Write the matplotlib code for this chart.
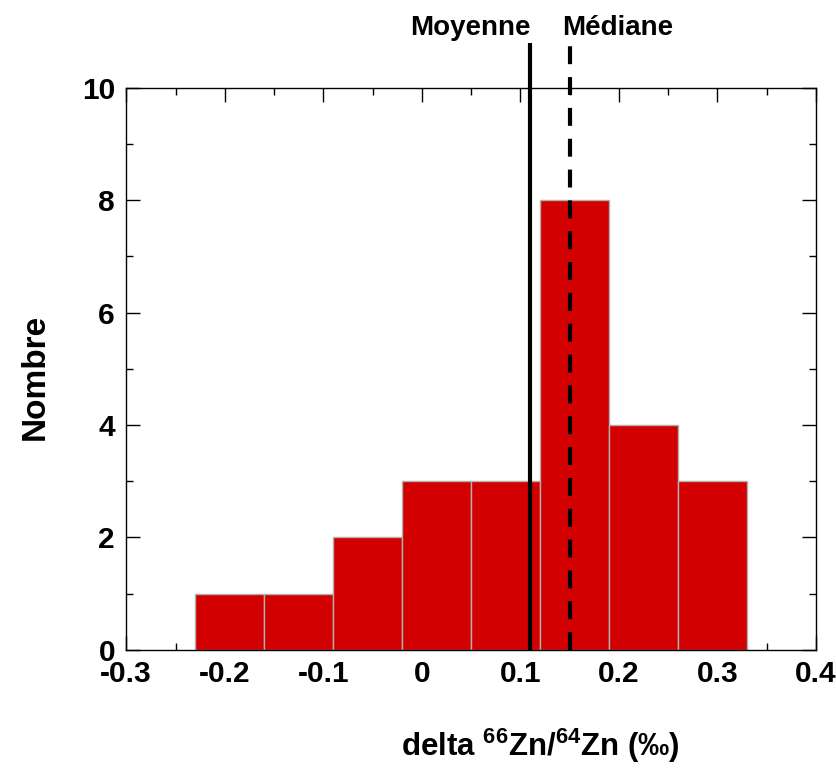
import matplotlib
matplotlib.use("Agg")
import matplotlib.pyplot as plt
import numpy as np
from matplotlib.ticker import MultipleLocator

plt.rcParams["font.family"] = ["Liberation Sans", "DejaVu Sans"]
plt.rcParams["mathtext.fontset"] = "custom"
plt.rcParams["mathtext.rm"] = "Liberation Sans:bold"
plt.rcParams["mathtext.bf"] = "Liberation Sans:bold"

# histogram of delta 66Zn/64Zn
bin_edges = [-0.23, -0.16, -0.09, -0.02, 0.05, 0.12, 0.19, 0.26, 0.33]
counts = [1, 1, 2, 3, 3, 8, 4, 3]
mean_val = 0.11
median_val = 0.15

C_BAR = "#d20000"

fig = plt.figure(figsize=(8.36, 7.69), dpi=100)
ax = fig.add_axes([0.151, 0.155, 0.825, 0.731])

widths = np.diff(bin_edges)
ax.bar(bin_edges[:-1], counts, width=widths, align="edge", color=C_BAR,
       edgecolor="#b0b0b0", linewidth=1.0, zorder=2)

# mean / median markers, drawn past the top of the frame
ax.plot([mean_val, mean_val], [-0.03, 10.8], color="black", lw=3,
        clip_on=False, zorder=4, solid_capstyle="butt")
ax.plot([median_val, median_val], [0, 10.75], color="black", lw=3,
        dashes=(4.3, 3.1), clip_on=False, zorder=4)

ax.text(mean_val, 10.94, "Moyenne", ha="right", va="baseline", fontsize=20,
        fontweight="bold")
ax.text(median_val - 0.008, 10.94, "Médiane", ha="left", va="baseline",
        fontsize=20, fontweight="bold")

ax.set_xlim(-0.3, 0.4)
ax.set_ylim(0, 10)
ax.xaxis.set_minor_locator(MultipleLocator(0.05))
ax.yaxis.set_major_locator(MultipleLocator(2))
ax.yaxis.set_minor_locator(MultipleLocator(1))
ax.set_xticks(np.arange(-0.3, 0.41, 0.1))
ax.set_xticklabels(["-0.3", "-0.2", "-0.1", "0", "0.1", "0.2", "0.3", "0.4"])
ax.tick_params(which="both", direction="in", top=True, right=True,
               width=1.0, labelsize=21.5)
ax.tick_params(axis="x", which="major", pad=7)
ax.tick_params(axis="y", which="major", pad=8)
ax.tick_params(which="major", length=10)
ax.tick_params(which="minor", length=5)
for lab in ax.get_xticklabels() + ax.get_yticklabels():
    lab.set_fontweight("bold")
for sp in ax.spines.values():
    sp.set_linewidth(1.0)

ax.set_ylabel("Nombre", fontsize=24, fontweight="bold")
ax.yaxis.set_label_coords(-0.11, 0.485)
fig.text(0.646, 0.005, r"delta $^{66}$Zn/$^{64}$Zn (‰)", ha="center",
         va="bottom", fontsize=22.5, fontweight="bold")

fig.savefig("out.png", dpi=100, facecolor="white")
